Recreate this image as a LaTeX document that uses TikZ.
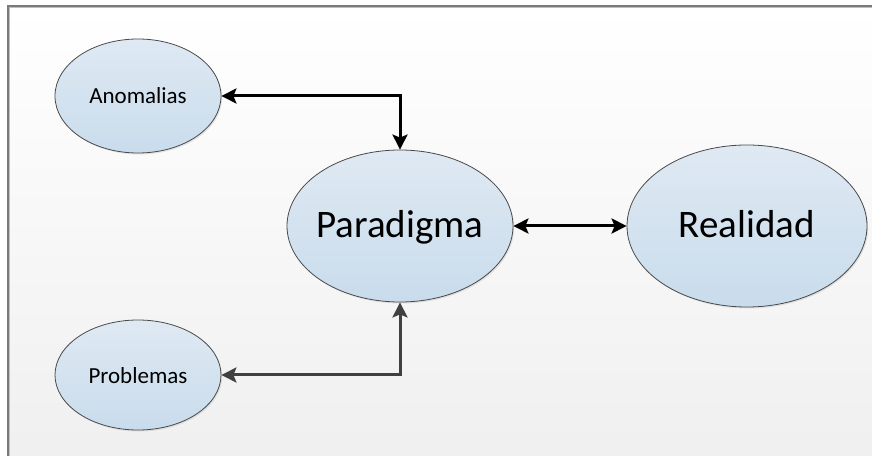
\documentclass[tikz,border=0pt]{standalone}
\usepackage{fontspec}
\setmainfont{Carlito}
\usetikzlibrary{shapes.geometric,arrows.meta,shadows}
\definecolor{bubtop}{HTML}{DFE9F3}
\definecolor{bubbot}{HTML}{C9DCEC}
\definecolor{bubline}{HTML}{4A4A4A}
\definecolor{darkarrow}{HTML}{404040}
\definecolor{framecol}{HTML}{7A7A7A}
\tikzset{
  bubble/.style={ellipse, draw=bubline, line width=0.8pt, top color=bubtop, bottom color=bubbot, inner sep=0pt,
    drop shadow={shadow xshift=1.2pt, shadow yshift=-1.5pt, opacity=0.18}},
  smalltext/.style={font=\fontsize{23}{26}\selectfont, text=black, anchor=base, inner sep=0pt},
  bigtext/.style={font=\fontsize{39}{44}\selectfont, text=black, anchor=base, inner sep=0pt},
  conn/.style={line width=3pt, {Stealth[length=15pt,width=15pt,inset=3pt]}-{Stealth[length=15pt,width=15pt,inset=3pt]}},
}
\begin{document}
\begin{tikzpicture}[x=1pt,y=1pt]
\useasboundingbox (0,0) rectangle (872,455);
\fill[white] (0,0) rectangle (872,455);
\shade[top color=white, bottom color=black!6] (8,0) rectangle (872,449);
\draw[black!25, line width=1.2pt] (9.5,-5) -- (9.5,447.5) -- (880,447.5);
\draw[framecol, line width=1.2pt] (8,-5) -- (8,449) -- (880,449);

\node[bubble, minimum width=166pt, minimum height=114pt] (ano) at (138,359) {};
\node[smalltext] (anotext) at (138,351) {Anomalias};
\node[bubble, minimum width=166pt, minimum height=110pt] (pro) at (138,80) {};
\node[smalltext] (protext) at (138,71) {Problemas};
\node[bubble, minimum width=226pt, minimum height=152pt] (par) at (400,229) {};
\node[bigtext] (partext) at (400,217) {Paradigma};
\node[bubble, minimum width=240pt, minimum height=162pt] (rea) at (747,229) {};
\node[bigtext] (reatext) at (747,217) {Realidad};

\draw[conn, black] (ano.east) -| (par.north);
\draw[conn, darkarrow] (pro.east) -| (par.south);
\draw[conn, black] (par.east) -- (rea.west);
\end{tikzpicture}
\end{document}
